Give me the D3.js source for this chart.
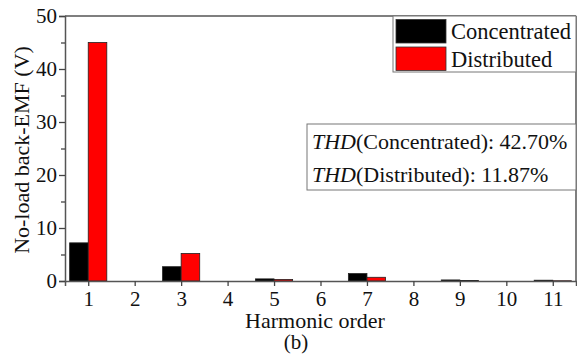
<!DOCTYPE html>
<html>
<head>
<meta charset="utf-8">
<script src="https://cdn.jsdelivr.net/npm/d3@7"></script>
<style>
  body { margin: 0; background: #fff; }
  svg { display: block; }
  text { font-family: "Liberation Serif", "Times New Roman", serif; }
</style>
</head>
<body>
<svg></svg>
<script>
let harmonics = [1, 2, 3, 4, 5, 6, 7, 8, 9, 10, 11]
let concentrated = [7.2, 0, 2.7, 0, 0.4, 0, 1.4, 0, 0.2, 0, 0.15]
let distributed = [45.0, 0, 5.2, 0, 0.3, 0, 0.7, 0, 0.1, 0, 0.05]
let seriesNames = ['Concentrated', 'Distributed']
let seriesColors = ['#000000', '#ff0000']
let yTicks = [0, 10, 20, 30, 40, 50]
let yMinorTicks = [5, 15, 25, 35, 45]
let thdLines = [['Concentrated', '42.70%'], ['Distributed', '11.87%']]

let width = 577
let height = 354
let plotLeft = 65
let plotRight = 576
let plotTop = 16
let plotBottom = 281
let barW = 0.4
let fs = 22
let serif = '"Liberation Serif", "Times New Roman", serif'

let svg = d3.select('svg').attr('width', width).attr('height', height)

let xScale = d3.scaleLinear().domain([0.5, 11.5]).range([plotLeft, plotRight])
let yScale = d3.scaleLinear().domain([0, 50]).range([plotBottom, plotTop])

// bars
let drawSeries = (vals, offset, color) => {
  svg.append('g').selectAll('rect')
     .data(vals)
     .enter()
     .append('rect')
     .attr('x', (d, i) => xScale(harmonics[i] + offset))
     .attr('width', xScale(barW) - xScale(0))
     .attr('y', d => yScale(d))
     .attr('height', d => yScale(0) - yScale(d))
     .attr('fill', color)
     .attr('stroke', d => d > 0 ? '#222' : 'none')
     .attr('stroke-width', 0.8)
}
drawSeries(concentrated, -barW, seriesColors[0])
drawSeries(distributed, 0, seriesColors[1])

// axes
let xAxis = d3.axisBottom(xScale).tickValues(harmonics).tickSize(5).tickPadding(5)
let yAxis = d3.axisLeft(yScale).tickValues(yTicks).tickSize(6).tickPadding(2)

let gx = svg.append('g')
   .attr('transform', `translate(0, ${plotBottom})`)
   .call(xAxis)
let gy = svg.append('g')
   .attr('transform', `translate(${plotLeft}, 0)`)
   .call(yAxis)

svg.append('g')
   .attr('transform', `translate(${plotLeft}, 0)`)
   .call(d3.axisLeft(yScale).tickValues(yMinorTicks).tickSize(4).tickFormat(''))
   .select('.domain').remove()

;[gx, gy].forEach(g => {
  g.attr('font-family', serif).attr('font-size', 21)
  g.selectAll('text').attr('fill', '#111')
  g.select('.domain').attr('stroke', '#555').attr('stroke-width', 1.5)
})
svg.selectAll('.tick line').attr('stroke', '#444').attr('stroke-width', 1.3)

// frame top/right
svg.append('line').attr('x1', plotLeft).attr('x2', plotRight).attr('y1', plotTop).attr('y2', plotTop)
   .attr('stroke', '#555').attr('stroke-width', 1.5)
svg.append('line').attr('x1', plotRight).attr('x2', plotRight).attr('y1', plotTop).attr('y2', plotBottom)
   .attr('stroke', '#555').attr('stroke-width', 1.5)

// axis titles
svg.append('text')
   .attr('x', 315).attr('y', 328)
   .attr('text-anchor', 'middle').attr('font-family', serif).attr('font-size', fs).attr('fill', '#111')
   .text('Harmonic order')
svg.append('text')
   .attr('x', 296).attr('y', 349)
   .attr('text-anchor', 'middle').attr('font-family', serif).attr('font-size', 21).attr('fill', '#111')
   .text('(b)')
svg.append('text')
   .attr('transform', 'translate(29, 150) rotate(-90)')
   .attr('text-anchor', 'middle').attr('font-family', serif).attr('font-size', fs).attr('fill', '#111')
   .text('No-load back-EMF (V)')

// legend
let lg = svg.append('g')
lg.append('rect').attr('x', 393).attr('y', plotTop).attr('width', plotRight - 393).attr('height', 72 - plotTop)
  .attr('fill', '#fff').attr('stroke', '#777').attr('stroke-width', 1)
seriesNames.forEach((name, i) => {
  let y0 = 19.5 + i * 27.5
  lg.append('rect').attr('x', 396).attr('y', y0).attr('width', 50).attr('height', 23.5)
    .attr('fill', seriesColors[i]).attr('stroke', '#333').attr('stroke-width', 0.8)
  lg.append('text').attr('x', 451).attr('y', y0 + 19.5)
    .attr('font-family', serif).attr('font-size', 22.5).attr('fill', '#111').text(name)
})

// THD box
let tb = svg.append('g')
tb.append('rect').attr('x', 307).attr('y', 124).attr('width', plotRight - 307).attr('height', 66)
  .attr('fill', '#fff').attr('stroke', '#777').attr('stroke-width', 1)
thdLines.forEach((d, i) => {
  let t = tb.append('text').attr('x', 312).attr('y', 149 + i * 33)
    .attr('font-family', serif).attr('font-size', fs).attr('fill', '#111')
  t.append('tspan').attr('font-style', 'italic').text('THD')
  t.append('tspan').text(`(${d[0]}): ${d[1]}`)
})
</script>
</body>
</html>
